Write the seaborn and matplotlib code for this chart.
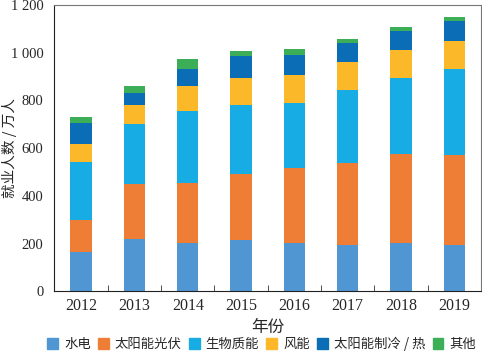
import numpy as np
import pandas as pd
import matplotlib
matplotlib.use('Agg')
import matplotlib.pyplot as plt
import matplotlib.patches as mpatches
import seaborn as sns
from matplotlib.ticker import FuncFormatter, FixedLocator

years = ['2012', '2013', '2014', '2015', '2016', '2017', '2018', '2019']
names = ['水电', '太阳能光伏', '生物质能', '风能', '太阳能制冷 / 热', '其他']
hydro = [167, 220, 203, 215, 205, 196, 205, 195]
solar_pv = [133, 230, 252, 279, 313, 343, 369, 378]
biomass = [241, 250, 299, 287, 273, 304, 320, 359]
wind = [78, 83, 105, 112, 117, 117, 118, 118]
solar_heat = [87, 49, 74, 92, 84, 81, 81, 82]
other = [25, 27, 41, 21, 23, 16, 15, 19]
colors = ['#5096d2', '#ee7d35', '#17ace3', '#fbb829', '#0a6db5', '#3cae57']

series = [hydro, solar_pv, biomass, wind, solar_heat, other]
cum = np.cumsum(np.array(series), axis=0)

sns.set_style('ticks')
plt.rcParams['font.family'] = ['Liberation Serif', 'Noto Sans CJK SC', 'DejaVu Sans']

fig = plt.figure(figsize=(4.82, 3.55), dpi=100)
ax = fig.add_axes([0.113, 0.179, 0.885, 0.807])

# draw tallest stack first so lower layers cover it
for i in range(len(series) - 1, -1, -1):
    df = pd.DataFrame({'year': years, 'value': cum[i]})
    sns.barplot(data=df, x='year', y='value', color=colors[i], width=0.4,
                saturation=1, ax=ax, edgecolor='none')

ax.set_xlim(-0.5, 7.5)
ax.set_ylim(0, 1200)
ax.set_yticks([0, 200, 400, 600, 800, 1000, 1200])
ax.yaxis.set_major_formatter(FuncFormatter(lambda v, p: f'{int(v):,}'.replace(',', ' ')))
ax.xaxis.set_minor_locator(FixedLocator(np.arange(0.5, 7.5, 1)))
ax.tick_params(axis='x', which='major', length=0, labelsize=11.5, pad=5)
ax.tick_params(axis='x', which='minor', length=4, direction='in', color='#333333')
ax.tick_params(axis='y', length=0, labelsize=10.5, pad=8)

ax.set_xlabel('年份', fontsize=12, family=['Noto Sans CJK SC'], labelpad=3)
ax.set_ylabel('就业人数 / 万人', fontsize=10.5, family=['Noto Sans CJK SC'])
ax.yaxis.set_label_coords(-0.088, 0.5)

for s in ['top', 'right']:
    ax.spines[s].set_color('#777777')
for s in ['left', 'bottom']:
    ax.spines[s].set_color('#222222')

handles = [mpatches.Patch(color=c, label=n) for c, n in zip(colors, names)]
fig.legend(handles=handles, loc='lower center', bbox_to_anchor=(0.543, -0.022), ncol=6,
           frameon=False, prop={'family': 'Noto Sans CJK SC', 'size': 9.6},
           handlelength=0.8, handleheight=0.9, handletextpad=0.45, columnspacing=0.55)

fig.savefig('out.png', dpi=100)
